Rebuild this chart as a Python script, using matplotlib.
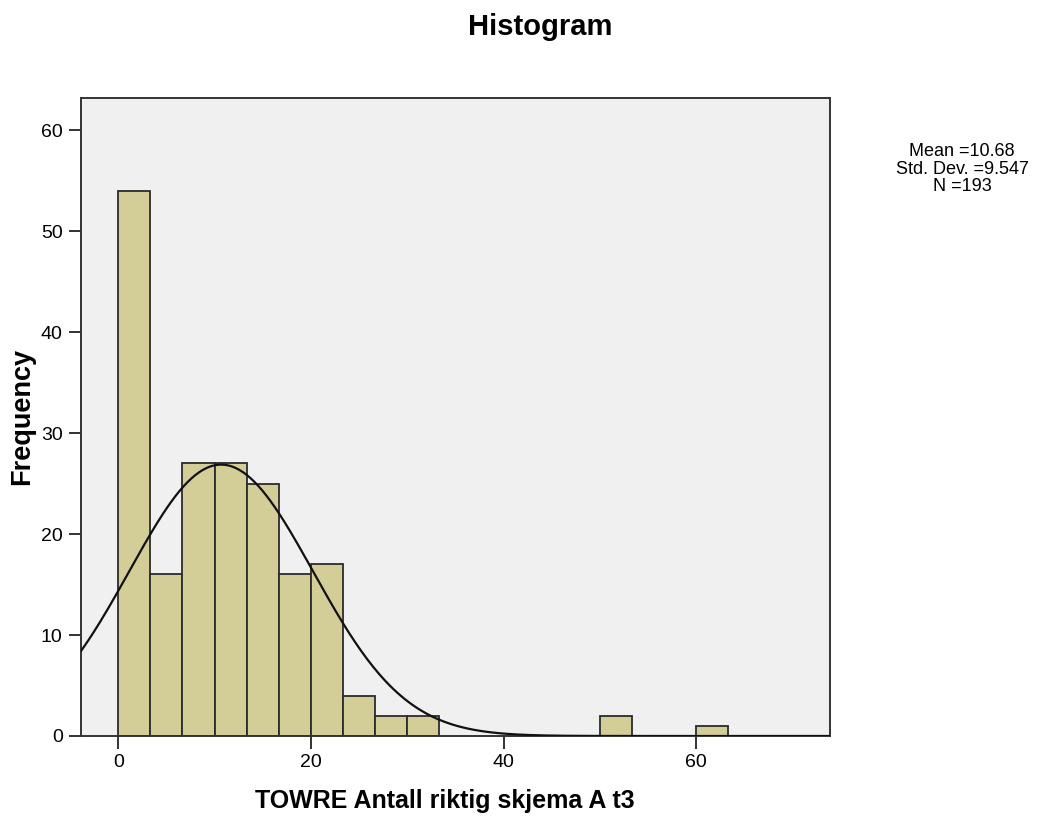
import numpy as np
import matplotlib
matplotlib.use("Agg")
import matplotlib.pyplot as plt

# histogram counts, bins of width 10/3 starting at 0
bin_start = 0.0
bin_width = 10.0 / 3.0
counts = [54, 16, 27, 27, 25, 16, 17, 4, 2, 2, 0, 0, 0, 0, 0, 2, 0, 0, 1]

# summary statistics shown in the chart
mean = 10.68
std_dev = 9.547
n_total = 193

x_ticks = [0, 20, 40, 60]
y_ticks = [0, 10, 20, 30, 40, 50, 60]

plt.rcParams['font.family'] = ['Liberation Sans', 'DejaVu Sans']

fig = plt.figure(figsize=(10.37, 8.16), dpi=100)
ax = fig.add_axes([80.7 / 1037, 1 - 736 / 816, (830 - 80.7) / 1037, (736 - 98) / 816])
ax.set_facecolor('#F0F0F0')

lefts = [bin_start + i * bin_width for i in range(len(counts))]
for left, c in zip(lefts, counts):
    if c > 0:
        ax.bar(left, c, width=bin_width, align='edge', color='#D3CE97',
               edgecolor='#2b2b2b', linewidth=1.3, zorder=2)

# fitted normal curve
xs = np.linspace(-6, 76, 400)
ys = n_total * bin_width / (std_dev * np.sqrt(2 * np.pi)) * np.exp(-0.5 * ((xs - mean) / std_dev) ** 2)
ax.plot(xs, ys, color='#111111', linewidth=1.6, zorder=3)

ax.set_xlim(-3.9, 73.9)
ax.set_ylim(0, 63.2)
ax.set_xticks(x_ticks)
ax.set_yticks(y_ticks)
ax.tick_params(direction='out', length=9, width=1.4, color='#333333', labelsize=14, pad=4)
for s in ax.spines.values():
    s.set_color('#333333')
    s.set_linewidth(1.4)

fig.text(540 / 1037, 1 - 27 / 816, 'Histogram', ha='center', va='center',
         fontsize=21, fontweight='bold')
fig.text(445 / 1037, 1 - 801 / 816, 'TOWRE Antall riktig skjema A t3', ha='center', va='center',
         fontsize=18, fontweight='bold')
fig.text(22 / 1037, 1 - 416 / 816, 'Frequency', ha='center', va='center', rotation=90,
         fontsize=19.5, fontweight='bold')

stats = 'Mean =%.2f\nStd. Dev. =%.3f\nN =%d' % (mean, std_dev, n_total)
fig.text(962 / 1037, 1 - 169 / 816, stats, ha='center', va='center', fontsize=13,
         linespacing=1.05)

fig.savefig('out.png', dpi=100)
